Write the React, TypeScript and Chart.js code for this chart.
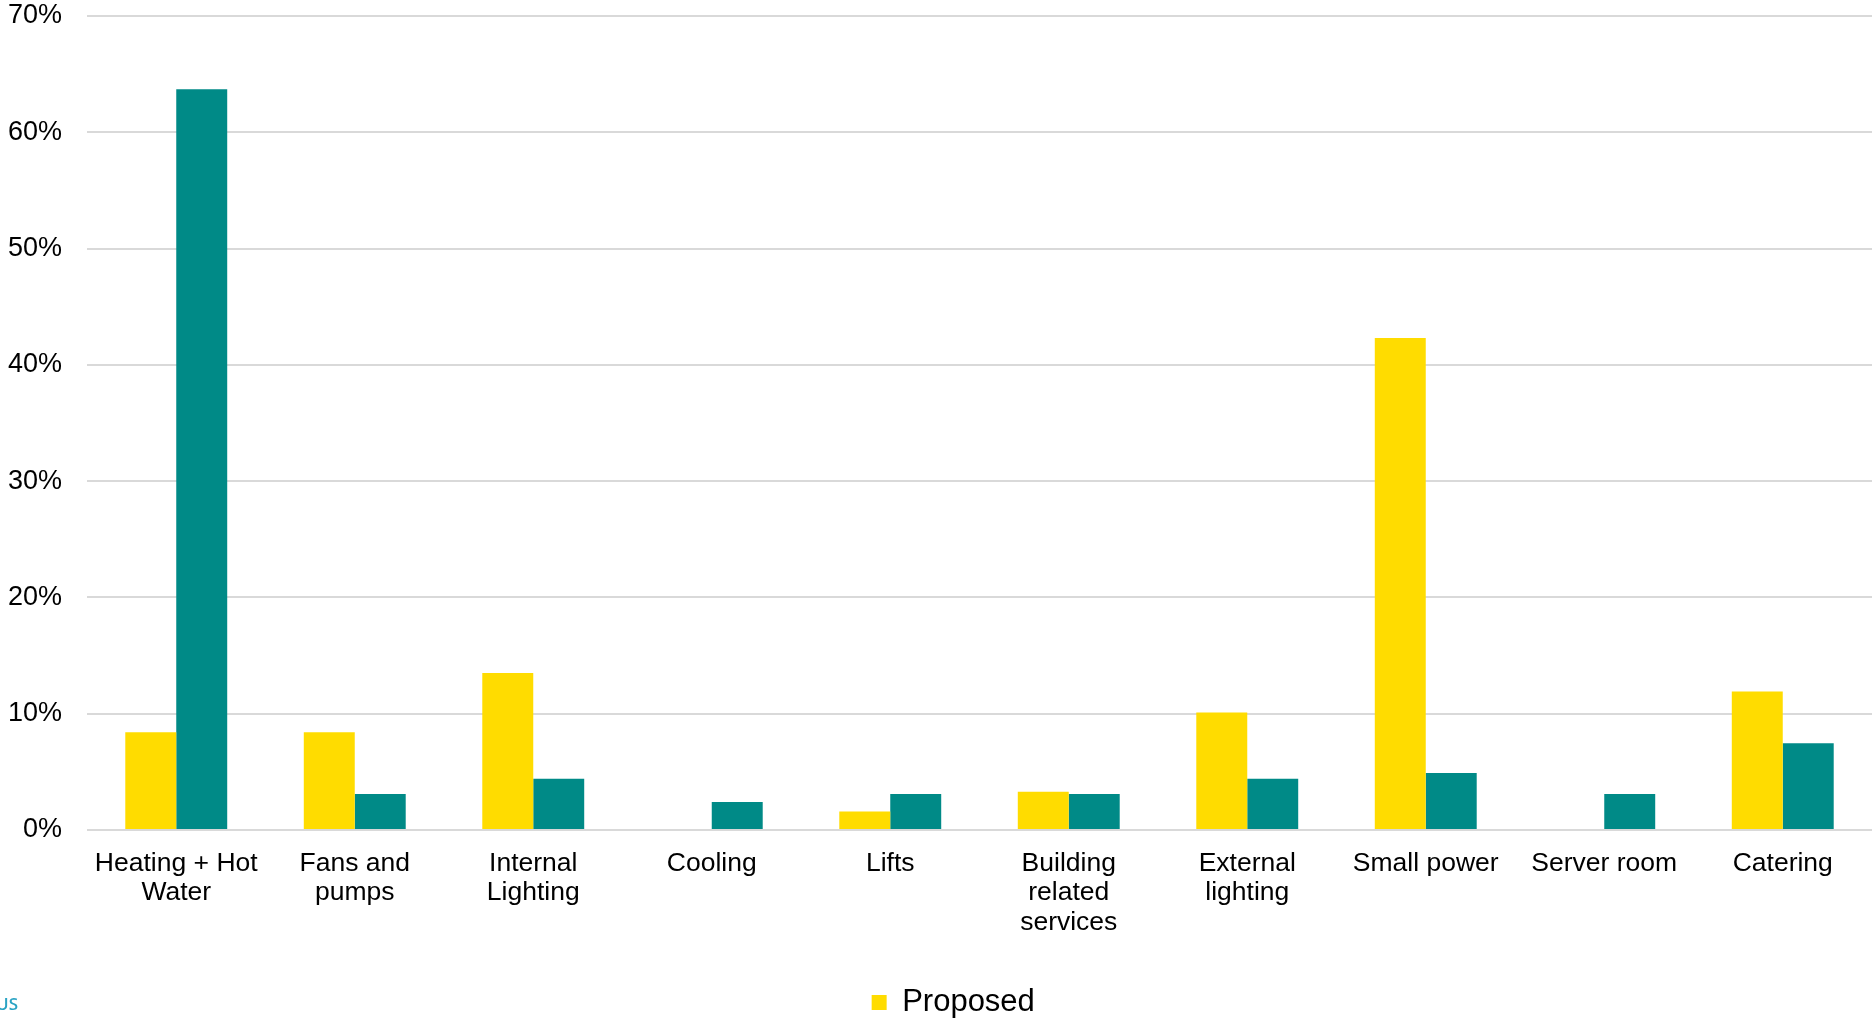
import React, { useEffect, useRef } from "react";
import { Chart, registerables } from "chart.js";

Chart.register(...registerables);

const categories: (string | string[])[] = [
  ["Heating + Hot", "Water"],
  ["Fans and", "pumps"],
  ["Internal", "Lighting"],
  "Cooling",
  "Lifts",
  ["Building", "related", "services"],
  ["External", "lighting"],
  "Small power",
  "Server room",
  "Catering",
];

const proposedValues = [8.4, 8.4, 13.5, 0, 1.6, 3.3, 10.1, 42.3, 0, 11.9];
const benchmarkValues = [63.7, 3.1, 4.4, 2.4, 3.1, 3.1, 4.4, 4.9, 3.1, 7.45];

const yTicks = [0, 10, 20, 30, 40, 50, 60, 70];

const FONT = "'Liberation Sans', Arial, Helvetica, sans-serif";
const PLOT_BOTTOM = 830;
const PAD_BOTTOM = -9;

export default function App() {
  const ref = useRef<HTMLCanvasElement | null>(null);

  useEffect(() => {
    document.body.style.margin = "0";
    const ctx = ref.current!.getContext("2d")!;
    const chart = new Chart(ctx, {
      type: "bar",
      data: {
        labels: categories,
        datasets: [
          {
            label: "Proposed",
            data: proposedValues,
            backgroundColor: "#FFDC00",
            categoryPercentage: 0.571,
            barPercentage: 1,
          },
          {
            label: "Benchmark",
            data: benchmarkValues,
            backgroundColor: "#008A87",
            categoryPercentage: 0.571,
            barPercentage: 1,
          },
        ],
      },
      options: {
        responsive: false,
        animation: false,
        layout: { padding: { left: 0, right: 1, top: 16, bottom: PAD_BOTTOM } },
        plugins: {
          tooltip: { enabled: false },
          legend: {
            position: "bottom",
            labels: {
              boxWidth: 15,
              boxHeight: 15,
              padding: 4,
              color: "#000",
              font: { family: FONT, size: 31 },
              generateLabels: (ch: any) => {
                const ds = ch.data.datasets[0];
                return [
                  {
                    text: "",
                    fillStyle: "rgba(0,0,0,0)",
                    strokeStyle: "rgba(0,0,0,0)",
                    lineWidth: 0,
                    hidden: false,
                    datasetIndex: -1,
                  },
                  {
                    text: ds.label,
                    fillStyle: ds.backgroundColor,
                    strokeStyle: ds.backgroundColor,
                    lineWidth: 0,
                    hidden: false,
                    datasetIndex: 0,
                  },
                ];
              },
            },
          },
        },
        scales: {
          x: {
            grid: { display: false },
            border: { display: false },
            ticks: {
              color: "#000",
              maxRotation: 0,
              autoSkip: false,
              padding: 11,
              font: { family: FONT, size: 26.5, lineHeight: 1.11 },
            },
            afterFit: (scale: any) => {
              const lg = scale.chart.legend;
              const lh = lg ? lg.height : 0;
              scale.height = scale.chart.height - PAD_BOTTOM - lh - PLOT_BOTTOM;
            },
          },
          y: {
            min: 0,
            max: 70,
            afterBuildTicks: (scale: any) => {
              scale.ticks = yTicks.map((v) => ({ value: v }));
            },
            afterFit: (scale: any) => {
              scale.width = 87;
              scale.paddingTop = 0;
              scale.paddingBottom = 0;
            },
            grid: { color: "#D9D9D9", lineWidth: 2, drawTicks: false },
            border: { display: false },
            ticks: {
              color: "#000",
              padding: 25,
              font: { family: FONT, size: 27 },
              callback: (v: any) => v + "%",
            },
          },
        },
      },
    } as any);
    return () => chart.destroy();
  }, []);

  return (
    <div style={{ position: "fixed", left: 0, top: 0, width: 1873, height: 1019, background: "#fff", overflow: "hidden" }}>
      <canvas ref={ref} width={1873} height={1019} style={{ display: "block" }} />
      <div
        style={{
          position: "absolute",
          left: -4,
          top: 992,
          color: "#2AA3C4",
          fontFamily: "'Open Sans', sans-serif",
          fontSize: 17,
          fontWeight: 600,
        }}
      >
        US
      </div>
    </div>
  );
}
